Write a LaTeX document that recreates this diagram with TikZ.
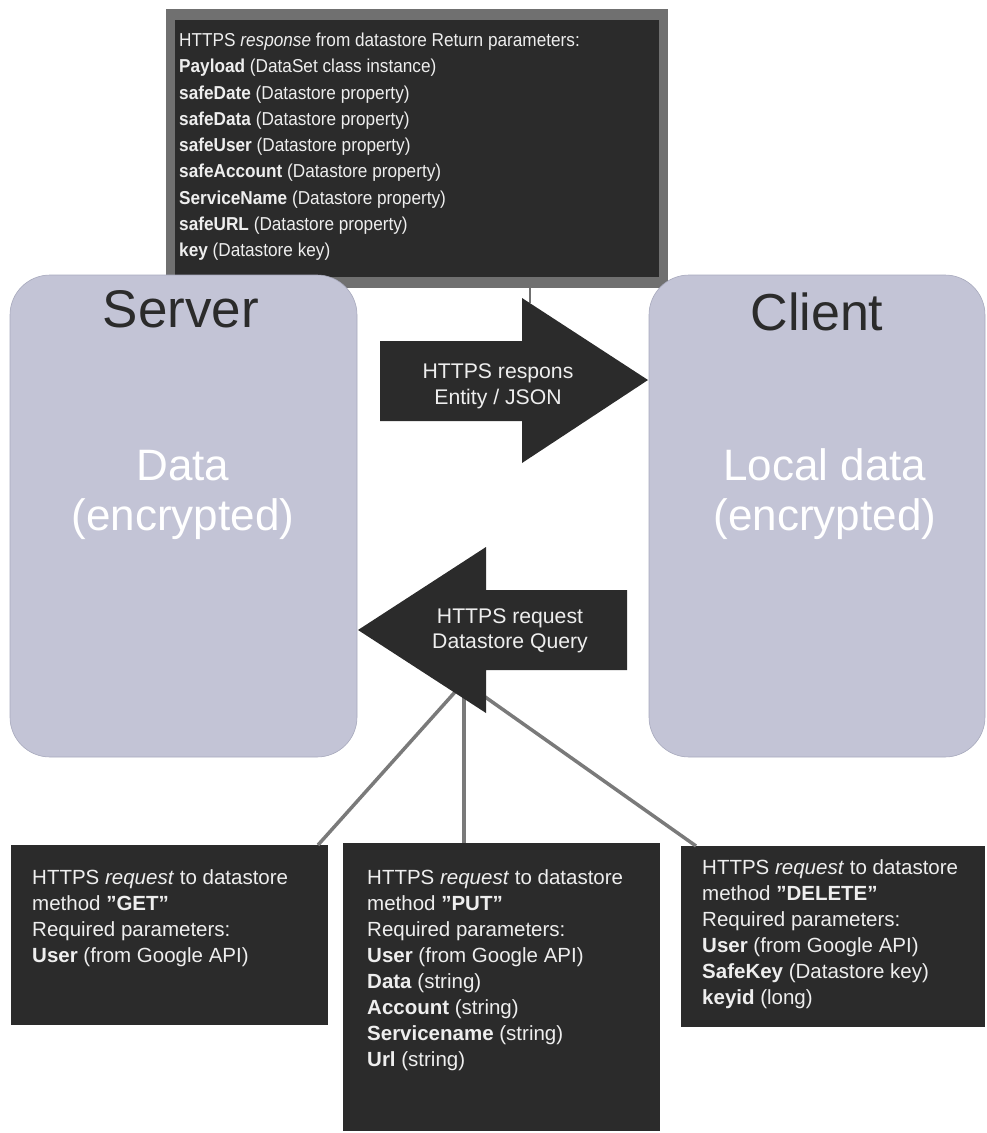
\documentclass[tikz,border=0pt]{standalone}
\usepackage{fontspec}
\setmainfont{Liberation Sans}
\newfontfamily\condfont[FakeStretch=0.92]{Liberation Sans}
\usetikzlibrary{calc}
\definecolor{darkbox}{HTML}{2B2B2B}
\definecolor{framegray}{HTML}{707070}
\definecolor{lav}{HTML}{C3C4D6}
\definecolor{lavedge}{HTML}{A8AABD}
\definecolor{linegray}{HTML}{7A7A7A}
\definecolor{txtlight}{HTML}{EEEEEE}
\definecolor{titletxt}{HTML}{2B2B2B}
\tikzset{
  panel/.style={fill=darkbox, draw=none, inner sep=0pt, outer sep=0pt, anchor=north west},
  framebox/.style={fill=framegray, draw=none, inner sep=0pt, outer sep=0pt, anchor=north west},
  lavbox/.style={fill=lav, draw=lavedge, line width=0.6pt, rounded corners=40pt, inner sep=0pt, outer sep=0pt, anchor=north west},
  paneltext/.style={text=txtlight, inner sep=0pt, anchor=base west},
  arrowshape/.style={fill=darkbox, draw=none},
  arrowtext/.style={text=txtlight, inner sep=0pt, anchor=base, font=\fontsize{21.2}{26}\selectfont},
  titletext/.style={text=titletxt, inner sep=0pt, anchor=base},
  datatext/.style={text=white, inner sep=0pt, anchor=base, font=\fontsize{44}{50}\selectfont},
  wire/.style={draw=linegray, line width=3.5pt},
  thinwire/.style={draw=framegray, line width=2pt},
}
\begin{document}
\begin{tikzpicture}[x=1pt,y=-1pt]
\useasboundingbox (0,0) rectangle (986,1133);

% top response box
\node[framebox, minimum width=502pt, minimum height=279pt] (respframe) at (166,9) {};
\node[panel, minimum width=484pt, minimum height=257pt] (resp) at (175,20) {};
\node[paneltext] (resptext) at (179,46.7) {\parbox[t]{470pt}{\raggedright\condfont\fontsize{18.7}{26.25}\selectfont
HTTPS \textit{response} from datastore Return parameters:\\
\textbf{Payload} (DataSet class instance)\\
\textbf{safeDate} (Datastore property)\\
\textbf{safeData} (Datastore property)\\
\textbf{safeUser} (Datastore property)\\
\textbf{safeAccount} (Datastore property)\\
\textbf{ServiceName} (Datastore property)\\
\textbf{safeURL} (Datastore property)\\
\textbf{key} (Datastore key)}};

% server and client
\node[lavbox, minimum width=347pt, minimum height=482pt] (server) at (10,275) {};
\node[lavbox, minimum width=336pt, minimum height=482pt] (client) at (649,275) {};

\node[titletext, font=\fontsize{53}{60}\selectfont] (servertitle) at (181,327) {Server};
\node[titletext, font=\fontsize{52}{60}\selectfont] (clienttitle) at (817,330) {Client};

\node[datatext] (serverdata) at (183,480) {\parbox[t]{320pt}{\centering Data\\(encrypted)}};
\node[datatext] (clientdata) at (825,480) {\parbox[t]{320pt}{\centering Local data\\(encrypted)}};

% connector from response box to right arrow
\coordinate (rarrtop) at (530,303);
\draw[thinwire] (respframe.south -| rarrtop) -- (rarrtop);

% right arrow (response)
\fill[arrowshape] (380,341) -- (522,341) -- (522,298) -- (648,380) -- (522,463) -- (522,421) -- (380,421) -- cycle;
\node[arrowtext] (resparrow) at (498,378) {\parbox[t]{200pt}{\centering HTTPS respons\\Entity / JSON}};

% bottom request boxes
\node[panel, minimum width=317pt, minimum height=180pt] (get) at (11,845) {};
\node[panel, minimum width=317pt, minimum height=288pt] (put) at (343,843) {};
\node[panel, minimum width=304pt, minimum height=181pt] (del) at (681,846) {};

% lines from request arrow to boxes
\coordinate (hub) at (464,682);
\draw[wire] (hub) -- ($(get.north east)+(-10,0)$);
\draw[wire] (hub) -- (put.north -| hub);
\draw[wire] (hub) -- ($(del.north west)+(15,0)$);

% left arrow (request)
\fill[arrowshape] (358,630) -- (486,547) -- (486,590) -- (627,590) -- (627,670) -- (486,670) -- (486,713) -- cycle;
\node[arrowtext, font=\fontsize{21.2}{25}\selectfont] (reqarrow) at (510,623) {\parbox[t]{220pt}{\centering HTTPS request\\Datastore Query}};

% texts in request boxes
\node[paneltext] (gettext) at (32,884) {\parbox[t]{300pt}{\raggedright\fontsize{20.5}{26}\selectfont
HTTPS \textit{request} to datastore\\
method \textbf{”GET”}\\
Required parameters:\\
\textbf{User} (from Google API)}};
\node[paneltext] (puttext) at (367,884) {\parbox[t]{290pt}{\raggedright\fontsize{20.5}{26}\selectfont
HTTPS \textit{request} to datastore\\
method \textbf{”PUT”}\\
Required parameters:\\
\textbf{User} (from Google API)\\
\textbf{Data} (string)\\
\textbf{Account} (string)\\
\textbf{Servicename} (string)\\
\textbf{Url} (string)}};
\node[paneltext] (deltext) at (702,874) {\parbox[t]{280pt}{\raggedright\fontsize{20.5}{26}\selectfont
HTTPS \textit{request} to datastore\\
method \textbf{”DELETE”}\\
Required parameters:\\
\textbf{User} (from Google API)\\
\textbf{SafeKey} (Datastore key)\\
\textbf{keyid} (long)}};
\end{tikzpicture}
\end{document}
